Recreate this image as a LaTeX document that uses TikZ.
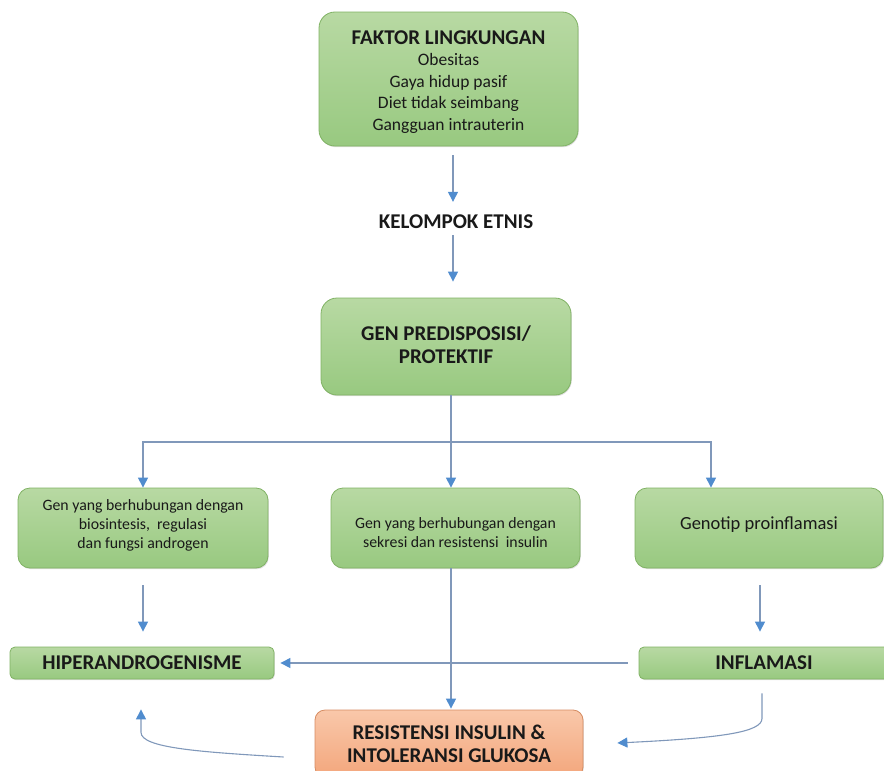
\documentclass[tikz,border=0pt]{standalone}
\usepackage{fontspec}
\setmainfont{Carlito}
\usetikzlibrary{arrows.meta,calc,shadows}

\definecolor{greentop}{RGB}{184,217,163}
\definecolor{greenbot}{RGB}{152,201,128}
\definecolor{greenedge}{RGB}{128,178,100}
\definecolor{salmontop}{RGB}{249,200,170}
\definecolor{salmonbot}{RGB}{243,166,124}
\definecolor{salmonedge}{RGB}{214,140,98}
\definecolor{linkline}{RGB}{128,152,186}
\definecolor{tipblue}{RGB}{80,140,206}
\definecolor{ink}{RGB}{25,25,25}

% font setups: size of glyphs / distance between baselines
\newcommand\hdsize{\fontsize{21}{23}\selectfont\bfseries}
\newcommand\bdsize{\fontsize{17.5}{21.5}\selectfont}
\newcommand\smsize{\fontsize{15.8}{19}\selectfont}

\begin{document}
\begin{tikzpicture}[x=1pt,y=-1pt,
  card/.style={draw=greenedge, line width=0.8pt, top color=greentop, bottom color=greenbot,
    align=center, text=ink, inner sep=0pt,
    drop shadow={shadow xshift=0.8pt, shadow yshift=-1.2pt, opacity=0.25}},
  bigcard/.style={card, rounded corners=16pt},
  midcard/.style={card, rounded corners=12pt},
  flatcard/.style={card, rounded corners=5pt},
  hotcard/.style={card, rounded corners=10pt, draw=salmonedge, top color=salmontop, bottom color=salmonbot},
  plain/.style={text=ink, inner sep=0pt},
  inscription/.style={plain, align=center},
  link/.style={draw=linkline, line width=1.1pt,
    -{Triangle[length=10pt,width=10pt,color=tipblue]}},
  bare/.style={draw=linkline, line width=1.1pt}]

\useasboundingbox (0,0) rectangle (884,771);
\clip (0,0) rectangle (884,771);

% boxes; the longer texts sit a little off the box centre
\node[bigcard, minimum width=259pt, minimum height=134pt,
  label={[inscription, font=\bdsize, name=env-text, yshift=-3pt]center:{{\hdsize FAKTOR LINGKUNGAN}\\ Obesitas\\ Gaya hidup pasif\\
   Diet tidak seimbang\\ Gangguan intrauterin}}] (env) at (448.5,79) {};
\node[plain, font=\hdsize] (etn) at (456,222) {KELOMPOK ETNIS};
\node[bigcard, minimum width=250pt, minimum height=97pt,
  label={[inscription, font=\hdsize, name=gen-text, yshift=2pt]center:{GEN PREDISPOSISI/\\ PROTEKTIF}}] (gen) at (446,346.5) {};

\node[midcard, minimum width=250pt, minimum height=80pt,
  label={[inscription, font=\smsize, name=gl-text, yshift=3pt]center:{Gen yang berhubungan dengan\\ biosintesis,\ \ regulasi\\ dan fungsi androgen}}] (gl) at (143,528) {};
\node[midcard, minimum width=249pt, minimum height=80pt,
  label={[inscription, font=\smsize, name=gm-text, yshift=-5pt]center:{Gen yang berhubungan dengan\\ sekresi dan resistensi\ \ insulin}}] (gm) at (455.5,528) {};
\node[midcard, minimum width=248pt, minimum height=80pt,
  label={[inscription, font=\fontsize{18.5}{21}\selectfont, name=gr-text, yshift=3pt]center:{Genotip proinflamasi}}] (gr) at (759,528) {};

\node[flatcard, font=\hdsize, minimum width=264pt, minimum height=32pt] (hip) at (142,663)
  {HIPERANDROGENISME};
\node[flatcard, font=\hdsize, minimum width=250pt, minimum height=32pt] (inf) at (764,663)
  {INFLAMASI};
\node[hotcard, font=\hdsize, minimum width=268pt, minimum height=67pt] (res) at (449,743.5)
  {RESISTENSI INSULIN \&\\ INTOLERANSI GLUKOSA};

% guide lines for the vertical runs
\coordinate (axis) at (453,0);
\coordinate (trunk) at (451,0);
\coordinate (rdrop) at (711,0);
\coordinate (rfall) at (760,0);
\coordinate (split) at (451,442);

% top chain
\draw[link, shorten <=9pt, shorten >=13pt] (env.south -| axis) -- (etn.north -| axis);
\draw[link, shorten <=6pt, shorten >=16pt] (etn.south -| axis) -- (gen.north -| axis);

% branching from the gene box
\draw[bare] (gen.south -| trunk) -- (split);
\draw[link] (split) -| (gl.north);
\draw[link] (split) -- (gm.north -| trunk);
\draw[link] (split) -| (gr.north -| rdrop);

% gene groups to outcomes
\draw[link, shorten <=17pt, shorten >=15pt] (gl.south) -- (hip.north -| gl.south);
\draw[link, shorten <=17pt, shorten >=15pt] (gr.south -| rfall) -- (inf.north -| rfall);
\draw[link, shorten <=11pt, shorten >=6pt] (inf.west) -- (hip.east);
\draw[link, shorten >=1pt] (gm.south -| trunk) -- (res.north -| trunk);

% curved feedback arrows
\coordinate (infout) at ($(inf.south)+(-2,14)$);
\coordinate (resin) at ($(res.east)+(34,-0.5)$);
\draw[link] (infout) -- ++(0,25) .. controls +(0,14) and (720,738) .. (resin);

\coordinate (resout) at ($(res.west)+(-31,13.5)$);
\coordinate (hipin) at ($(hip.south)+(-1,30)$);
\draw[link] (resout) .. controls (200,752) and (141,748) .. ($(hipin)+(0,23)$) -- (hipin);
\end{tikzpicture}
\end{document}
